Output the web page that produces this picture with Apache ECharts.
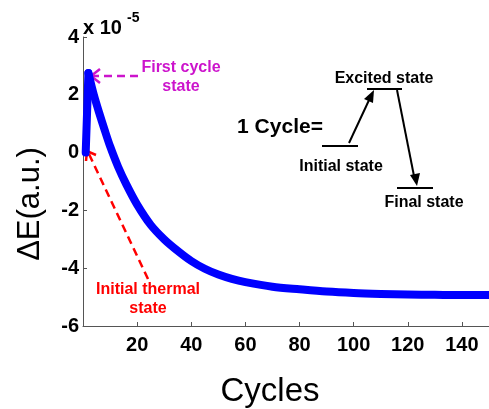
<!DOCTYPE html>
<html>
<head>
<meta charset="utf-8">
<script src="https://cdn.jsdelivr.net/npm/echarts@6/dist/echarts.min.js"></script>
<style>
  html, body { margin: 0; padding: 0; background: #fff; }
  #chart { width: 489px; height: 409px; }
</style>
</head>
<body>
<div id="chart"></div>
<script>
// 数据（单位 1e-5）
const cycles = [1, 2, 4, 6, 8, 10, 13, 16, 20, 25, 30, 35, 40, 45, 50, 55, 60, 70, 80, 90, 100, 110, 120, 130, 140, 150];
const deltaE = [0, 2.75, 2.0, 1.37, 0.78, 0.22, -0.5, -1.1, -1.8, -2.5, -3.0, -3.4, -3.75, -4.02, -4.22, -4.37, -4.48, -4.64, -4.73, -4.81, -4.86, -4.89, -4.91, -4.92, -4.93, -4.93];
const yTicks = [-6, -4, -2, 0, 2, 4];
const xTicks = [20, 40, 60, 80, 100, 120, 140];

const font = 'Liberation Sans, Arial, sans-serif';
const magenta = '#cc14cc';
const red = '#ff0000';

const points = cycles.map((c, i) => [c, deltaE[i]]);

const chart = echarts.init(document.getElementById('chart'));

// 文字小工具
function label(text, x, y, size, color, opts = {}) {
  return {
    type: 'text',
    x: x,
    y: y,
    rotation: opts.rotation || 0,
    style: {
      text: text,
      fill: color,
      font: (opts.weight || 'bold') + ' ' + size + 'px ' + font,
      align: opts.align || 'center',
      verticalAlign: 'middle'
    }
  };
}

function seg(x1, y1, x2, y2, color, width, dash) {
  return {
    type: 'line',
    shape: { x1, y1, x2, y2 },
    style: { stroke: color, lineWidth: width, lineDash: dash || null }
  };
}

const graphics = [
  // 坐标轴名称
  label('\u0394E(a.u.)', 30, 204, 31, '#000', { weight: 'normal', rotation: Math.PI / 2 }),
  label('Cycles', 270, 392, 33, '#000', { weight: 'normal' }),
  // 10^-5 乘数
  label('x 10', 83, 28, 20, '#000', { align: 'left' }),
  label('-5', 127, 18, 14, '#000', { align: 'left' }),

  // 第一循环状态（品红）
  label('First cycle', 181, 68, 16, magenta),
  label('state', 181, 87, 16, magenta),
  seg(138, 76, 92, 76, magenta, 2.5, [8, 5]),
  {
    type: 'polyline',
    shape: { points: [[100, 69], [91, 76], [100, 83]] },
    style: { stroke: magenta, lineWidth: 2.5, fill: null }
  },

  // 初始热状态（红）
  label('Initial thermal', 148, 290, 16, red),
  label('state', 148, 309, 16, red),
  seg(148, 279, 89, 154, red, 2.5, [8, 5]),
  {
    type: 'polyline',
    shape: { points: [[86, 161], [87, 151], [96, 155]] },
    style: { stroke: red, lineWidth: 2.5, fill: null }
  },

  // 1 Cycle 示意图
  label('1 Cycle=', 280, 127, 21, '#000'),
  label('Excited state', 384, 79, 16, '#000'),
  label('Initial state', 341, 167, 16, '#000'),
  label('Final state', 424, 203, 16, '#000'),
  seg(322, 146, 358, 146, '#000', 2),
  seg(367, 89, 402, 89, '#000', 2),
  seg(397, 188, 433, 188, '#000', 2),
  seg(349, 143, 370, 98, '#000', 2),
  {
    type: 'polygon',
    shape: { points: [[374, 90], [364, 99], [373, 103]] },
    style: { fill: '#000' }
  },
  seg(397, 90, 414, 176, '#000', 2),
  {
    type: 'polygon',
    shape: { points: [[417, 186], [410, 175], [420, 173]] },
    style: { fill: '#000' }
  }
];

const lineStyle = { color: '#0000ff', width: 8, cap: 'round', join: 'round' };

const option = {
  animation: false,
  backgroundColor: '#fff',
  grid: { left: 83, right: -2, top: 37, bottom: 83 },
  xAxis: {
    type: 'value',
    min: 0,
    max: 150,
    interval: 20,
    splitLine: { show: false },
    axisLine: { onZero: false, lineStyle: { color: '#555', width: 1 } },
    axisTick: { inside: true, length: 4, lineStyle: { color: '#555' } },
    axisLabel: {
      margin: 9,
      color: '#000',
      fontFamily: font,
      fontWeight: 'bold',
      fontSize: 20,
      showMaxLabel: false,
      formatter: v => (xTicks.includes(v) ? String(v) : '')
    }
  },
  yAxis: {
    type: 'value',
    min: -6,
    max: 4,
    interval: 2,
    splitLine: { show: false },
    axisLine: { show: true, onZero: false, lineStyle: { color: '#555', width: 1 } },
    axisTick: { show: true, inside: true, length: 4, lineStyle: { color: '#555' } },
    axisLabel: {
      margin: 4,
      color: '#000',
      fontFamily: font,
      fontWeight: 'bold',
      fontSize: 20,
      formatter: v => (yTicks.includes(v) ? String(v) : '')
    }
  },
  series: [
    {
      // 第一次循环的上升段
      type: 'line',
      data: points.slice(0, 2),
      symbol: 'none',
      lineStyle: lineStyle
    },
    {
      // 之后的弛豫段
      type: 'line',
      data: points.slice(1),
      smooth: 0.3,
      symbol: 'none',
      lineStyle: lineStyle
    }
  ],
  graphic: graphics
};

chart.setOption(option);
</script>
</body>
</html>
